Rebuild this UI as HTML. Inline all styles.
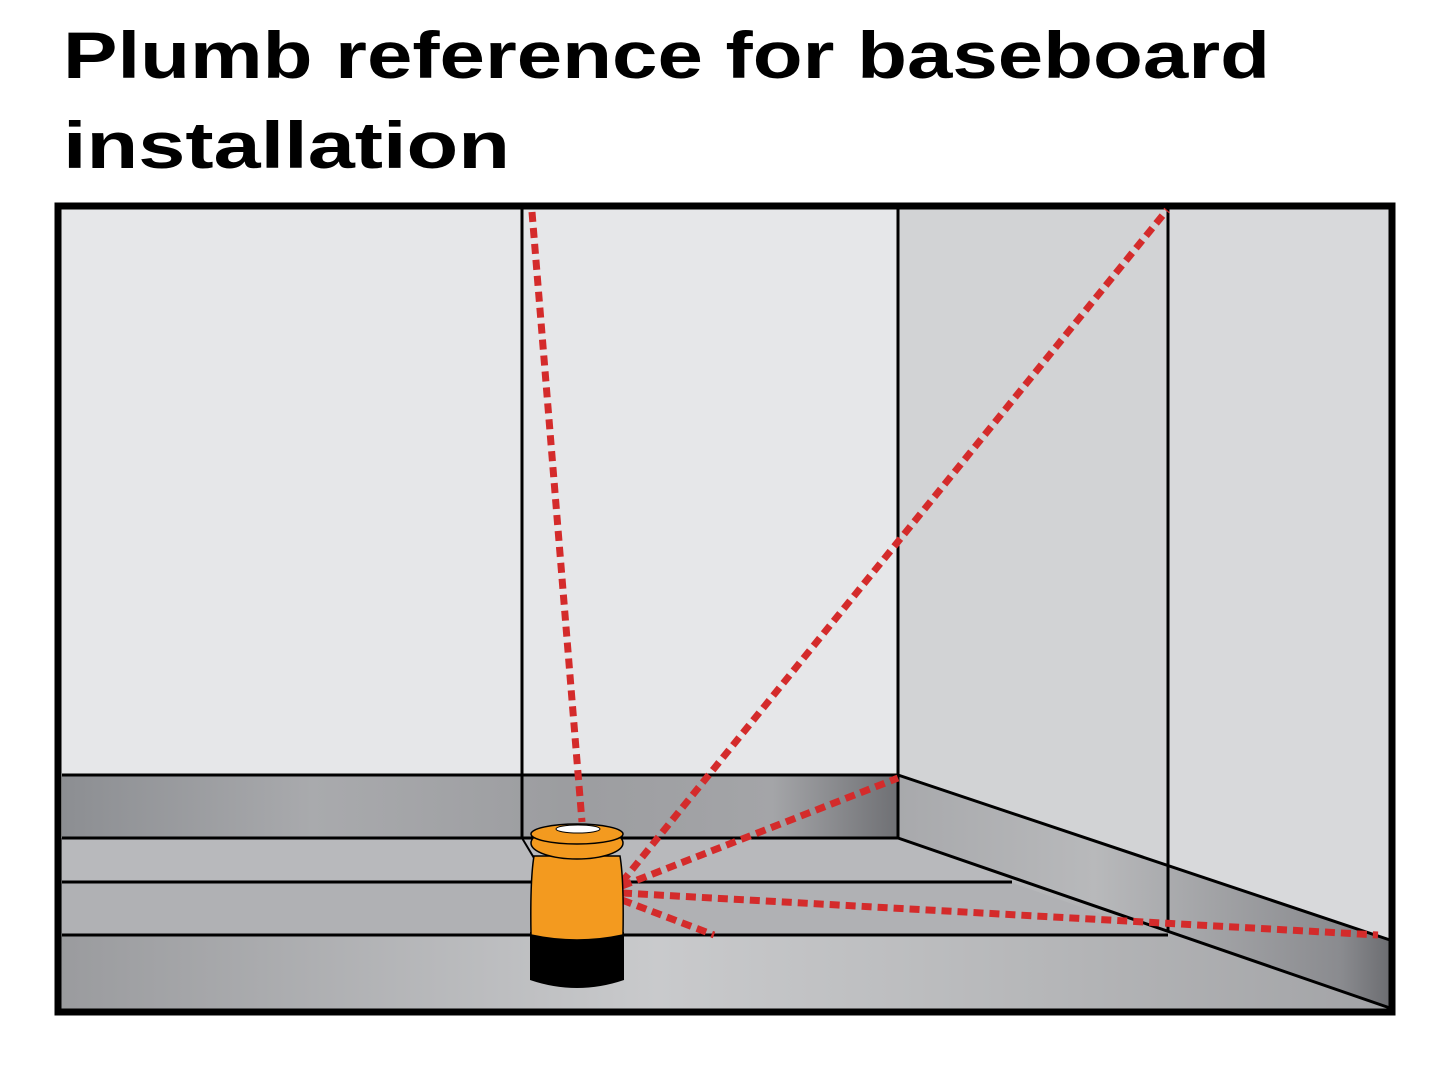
<!DOCTYPE html>
<html><head><meta charset="utf-8"><style>html,body{margin:0;padding:0;background:#fff}svg{display:block}</style></head>
<body>
<svg width="1440" height="1089" viewBox="0 0 1440 1089" xmlns="http://www.w3.org/2000/svg">
<defs>
<linearGradient id="bb" x1="0" x2="1" y1="0" y2="0">
<stop offset="0" stop-color="#8c8e92"/><stop offset="0.3" stop-color="#a9aaad"/><stop offset="0.6" stop-color="#9c9da0"/><stop offset="0.85" stop-color="#a4a5a8"/><stop offset="1" stop-color="#6f7074"/></linearGradient>
<linearGradient id="fl" x1="0" x2="1" y1="0" y2="0">
<stop offset="0" stop-color="#9a9b9e"/><stop offset="0.45" stop-color="#c9cacc"/><stop offset="0.75" stop-color="#b5b6b8"/><stop offset="1" stop-color="#a2a3a6"/></linearGradient>
<linearGradient id="rb" x1="0" x2="1" y1="0" y2="0">
<stop offset="0" stop-color="#a8a9ac"/><stop offset="0.4" stop-color="#b8b9bb"/><stop offset="0.9" stop-color="#8a8b8f"/><stop offset="1" stop-color="#6c6d71"/></linearGradient>
</defs>
<text x="63" y="78" font-family="Liberation Sans, sans-serif" font-weight="bold" font-size="66" textLength="1207" lengthAdjust="spacingAndGlyphs">Plumb reference for baseboard</text>
<text x="63" y="168" font-family="Liberation Sans, sans-serif" font-weight="bold" font-size="66" textLength="447" lengthAdjust="spacingAndGlyphs">installation</text>

<rect x="58" y="206" width="1335" height="806" fill="#e6e7e9"/>
<polygon points="898,206 1168,206 1168,866 898,775" fill="#d2d3d5"/>
<polygon points="1168,206 1390,206 1390,940 1168,866" fill="#d8d9db"/>
<polygon points="58,838 898,838 1390,1008 1390,1012 58,1012" fill="url(#fl)"/>
<polygon points="62,838 898,838 1010,882 62,882" fill="#b8b9bc"/>
<polygon points="62,882 1010,882 1160,935 62,935" fill="#b0b1b4"/>
<rect x="62" y="775" width="836" height="63" fill="url(#bb)"/>
<polygon points="898,775 1390,940 1390,1008 898,838" fill="url(#rb)"/>
<g stroke="#000" fill="none">
<line x1="522" y1="206" x2="522" y2="838" stroke-width="3"/>
<line x1="898" y1="206" x2="898" y2="838" stroke-width="3"/>
<line x1="1168" y1="206" x2="1168" y2="932" stroke-width="3"/>
<line x1="62" y1="775" x2="898" y2="775" stroke-width="3"/>
<line x1="62" y1="838" x2="898" y2="838" stroke-width="3"/>
<line x1="62" y1="882" x2="1012" y2="882" stroke-width="3"/>
<line x1="62" y1="935" x2="1168" y2="935" stroke-width="3"/>
<line x1="898" y1="775" x2="1390" y2="940" stroke-width="3"/>
<line x1="898" y1="838" x2="1390" y2="1008" stroke-width="3"/>
<line x1="522" y1="838" x2="534" y2="858" stroke-width="2"/>
<rect x="58" y="206" width="1334" height="806" stroke-width="7"/>
</g>
<g stroke="#d42b2b" stroke-width="7" stroke-dasharray="10 6" fill="none">
<line x1="532" y1="212" x2="582" y2="822"/>
<line x1="622" y1="882" x2="1167" y2="210"/>
<line x1="622" y1="886" x2="898" y2="778"/>
<line x1="622" y1="893" x2="1378" y2="935"/>
<line x1="622" y1="900" x2="714" y2="935"/>
</g>
<path d="M530,932 L530,980 Q577,996 624,980 L624,932 Z" fill="#000"/>
<path d="M534,856 Q530,880 531,935 Q577,945 623,935 Q624,880 620,856 Z" fill="#f39a1f" stroke="#000" stroke-width="1.5"/>
<ellipse cx="577" cy="843" rx="46" ry="16" fill="#f39a1f" stroke="#000" stroke-width="1.5"/>
<ellipse cx="577" cy="834" rx="46" ry="10" fill="#f39a1f" stroke="#000" stroke-width="1.5"/>
<ellipse cx="578" cy="829" rx="22" ry="4" fill="#fff" stroke="#000" stroke-width="1"/>
</svg>
</body></html>
